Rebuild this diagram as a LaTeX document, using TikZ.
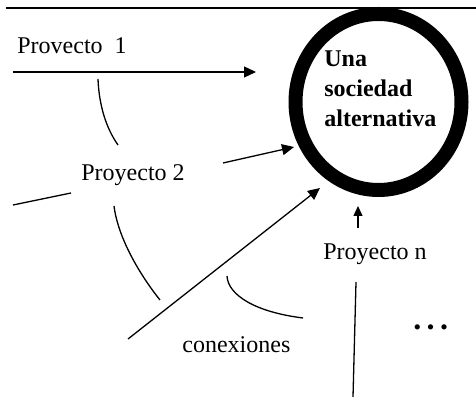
\documentclass[tikz,border=0pt]{standalone}
\usepackage{fontspec}
\setmainfont{Liberation Serif}
\usetikzlibrary{arrows.meta,shapes.geometric}
\begin{document}
\begin{tikzpicture}[x=0.5pt,y=-0.5pt,
  lbl/.style={inner sep=0pt,font=\fontsize{12}{15}\selectfont,anchor=base west},
  conn/.style={line width=0.65pt},
  arr/.style={conn,-{Triangle[length=6pt,width=5.5pt]}},
  smallarr/.style={conn,-{Triangle[length=5pt,width=4.5pt]}},
  ring/.style={draw,ellipse,line width=7pt,inner sep=0pt}
  ]
\useasboundingbox (0,0) rectangle (476,399);
% top rule
\coordinate (ruleL) at (6,8);
\coordinate (ruleR) at (476,8);
\draw[line width=0.7pt] (ruleL) -- (ruleR);
% goal ring
\node[ring,minimum width=83pt,minimum height=88pt] (goal) at (378.5,102) {};
\node[lbl,align=left,font=\fontsize{12}{15}\selectfont\bfseries] (goaltext) at (324,127) {Una\\sociedad\\alternativa};
% labels
\node[lbl] (p1) at (17,54) {Provecto~~1};
\node[lbl] (p2) at (81,181) {Proyecto 2};
\node[lbl] (pn) at (323,260) {Proyecto n};
\node[lbl] (con) at (182,353) {conexiones};
\node[lbl,font=\fontsize{16}{18}\selectfont\bfseries] (dots) at (413,330) {.\,.\,.};
% coordinates
\coordinate (a1s) at (13,72);
\coordinate (a1e) at (256,72);
\coordinate (a2s) at (223,163);
\coordinate (a2e) at (294,147);
\coordinate (a3s) at (128,339);
\coordinate (a3e) at (320,188);
\coordinate (a4s) at (358,228);
\coordinate (a4e) at (358,206);
\coordinate (c1s) at (98,79);
\coordinate (c1e) at (118,145);
\coordinate (c2s) at (114,206);
\coordinate (c2e) at (160,300);
\coordinate (c3s) at (227,276);
\coordinate (c3e) at (303,318);
\coordinate (l1s) at (13,205);
\coordinate (l1e) at (71,193);
\coordinate (v1s) at (356,282);
\coordinate (v1e) at (353,397);
% connectors
\draw[arr] (a1s) -- (a1e);
\draw[arr] (a2s) -- (a2e);
\draw[arr] (a3s) -- (a3e);
\draw[smallarr] (a4s) -- (a4e);
\draw[conn] (c1s) .. controls (99,105) and (106,128) .. (c1e);
\draw[conn] (c2s) .. controls (118,238) and (140,275) .. (c2e);
\draw[conn] (c3s) .. controls (228,295) and (255,312) .. (c3e);
\draw[conn] (l1s) -- (l1e);
\draw[conn] (v1s) -- (v1e);
\end{tikzpicture}
\end{document}
